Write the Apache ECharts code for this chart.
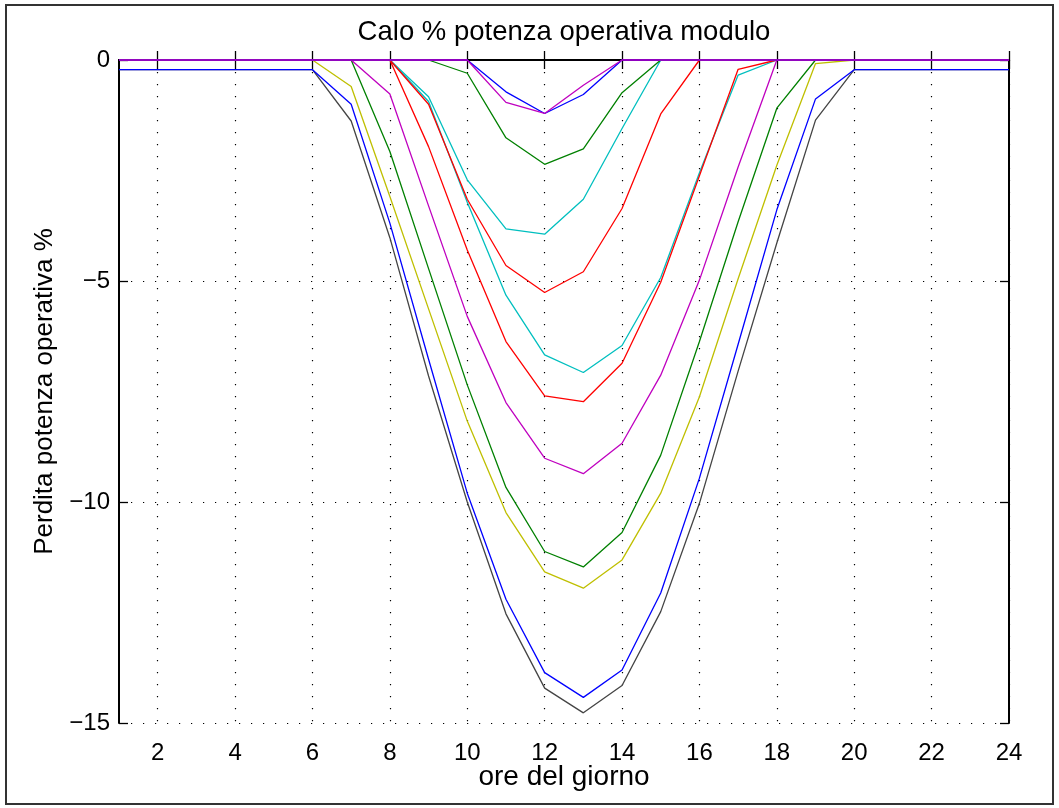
<!DOCTYPE html>
<html>
<head>
<meta charset="utf-8">
<script src="https://cdn.jsdelivr.net/npm/echarts@6/dist/echarts.min.js"></script>
<style>
  html, body { margin: 0; padding: 0; background: #fff; }
  #chart { width: 1059px; height: 808px; }
</style>
</head>
<body>
<div id="chart"></div>
<script>
// Hours of the day (x categories) and the hours that carry a tick/label
const hours = [1, 2, 3, 4, 5, 6, 7, 8, 9, 10, 11, 12, 13, 14, 15, 16, 17, 18, 19, 20, 21, 22, 23, 24];
const xTickHours = [2, 4, 6, 8, 10, 12, 14, 16, 18, 20, 22, 24];
const yTickStep = 5;
const yMin = -15;
const yMax = 0;

// Percentage loss of operating power, one curve per case (values per hour)
const curveBlueSmall    = [0, 0, 0, 0, 0, 0, 0, 0, 0, 0, -0.72, -1.21, -0.78, 0, 0, 0, 0, 0, 0, 0, 0, 0, 0, 0];
const curveMagentaSmall = [0, 0, 0, 0, 0, 0, 0, 0, 0, 0, -0.96, -1.21, -0.57, 0, 0, 0, 0, 0, 0, 0, 0, 0, 0, 0];
const curveGreenSmall   = [0, 0, 0, 0, 0, 0, 0, 0, 0, -0.30, -1.76, -2.36, -2.01, -0.74, 0, 0, 0, 0, 0, 0, 0, 0, 0, 0];
const curveCyanUpper    = [0, 0, 0, 0, 0, 0, 0, 0, -0.83, -2.71, -3.82, -3.94, -3.15, -1.55, 0, 0, 0, 0, 0, 0, 0, 0, 0, 0];
const curveRedUpper     = [0, 0, 0, 0, 0, 0, 0, 0, -1.00, -3.15, -4.65, -5.26, -4.79, -3.36, -1.22, 0, 0, 0, 0, 0, 0, 0, 0, 0];
const curveCyanLower    = [0, 0, 0, 0, 0, 0, 0, 0, -0.94, -3.22, -5.32, -6.67, -7.07, -6.46, -4.92, -2.55, -0.34, 0, 0, 0, 0, 0, 0, 0];
const curveRedLower     = [0, 0, 0, 0, 0, 0, 0, 0, -1.96, -4.30, -6.37, -7.60, -7.73, -6.86, -5.03, -2.62, -0.21, 0, 0, 0, 0, 0, 0, 0];
const curveMagentaLower = [0, 0, 0, 0, 0, 0, 0, -0.77, -3.30, -5.80, -7.75, -9.01, -9.36, -8.67, -7.13, -4.98, -2.42, 0, 0, 0, 0, 0, 0, 0];
const curveGreenLower   = [0, 0, 0, 0, 0, 0, 0, -2.07, -4.72, -7.35, -9.67, -11.12, -11.47, -10.69, -8.94, -6.37, -3.66, -1.09, 0, 0, 0, 0, 0, 0];
const curveYellow       = [0, 0, 0, 0, 0, 0, -0.60, -3.09, -5.63, -8.17, -10.24, -11.58, -11.95, -11.31, -9.80, -7.62, -4.95, -2.38, -0.08, 0, 0, 0, 0, 0];
const curveBlueDeep     = [-0.22, -0.22, -0.22, -0.22, -0.22, -0.22, -1.00, -3.69, -6.77, -9.80, -12.20, -13.86, -14.42, -13.80, -12.06, -9.46, -6.43, -3.39, -0.88, -0.22, -0.22, -0.22, -0.22, -0.22];
const curveBlack        = [-0.22, -0.22, -0.22, -0.22, -0.22, -0.22, -1.38, -4.02, -7.15, -10.00, -12.53, -14.21, -14.77, -14.15, -12.48, -10.03, -7.04, -4.14, -1.36, -0.22, -0.22, -0.22, -0.22, -0.22];

// Drawing order: deepest first, so the later curves sit on top
const curves = [
  { data: curveBlack,        color: '#444444' },
  { data: curveBlueDeep,     color: '#0000FF' },
  { data: curveYellow,       color: '#BFBF00' },
  { data: curveGreenLower,   color: '#008000' },
  { data: curveMagentaLower, color: '#BF00BF' },
  { data: curveCyanLower,    color: '#00BFBF' },
  { data: curveRedLower,     color: '#FF0000' },
  { data: curveCyanUpper,    color: '#00BFBF' },
  { data: curveRedUpper,     color: '#FF0000' },
  { data: curveGreenSmall,   color: '#008000' },
  { data: curveBlueSmall,    color: '#0000FF' },
  { data: curveMagentaSmall, color: '#BF00BF' }
];

const FONT = 'Liberation Sans, Arial, Helvetica, sans-serif';
const onTick = (index) => xTickHours.indexOf(hours[index]) !== -1;
const dotted = { color: '#000', width: 1.2, type: [1.2, 10.8] };

const chart = echarts.init(document.getElementById('chart'), null, { renderer: 'canvas' });

chart.setOption({
  animation: false,
  backgroundColor: '#fff',
  grid: { left: 119, right: 50, top: 60, bottom: 85, containLabel: false },
  graphic: [
    {
      type: 'rect',
      shape: { x: 6, y: 5, width: 1047, height: 799 },
      style: { fill: 'none', stroke: '#333', lineWidth: 2 },
      z: 0
    },
    {
      type: 'text',
      x: 564, y: 32,
      style: {
        text: 'Calo % potenza operativa modulo',
        font: '27.5px ' + FONT,
        fill: '#000',
        textAlign: 'center',
        textVerticalAlign: 'middle'
      }
    }
  ],
  xAxis: [
    {
      type: 'category',
      data: hours,
      boundaryGap: false,
      position: 'bottom',
      axisLine: { show: true, lineStyle: { color: '#000', width: 2 } },
      axisTick: { show: true, inside: true, length: 9, interval: onTick, lineStyle: { color: '#000', width: 1.3 } },
      axisLabel: { show: true, interval: onTick, margin: 18, color: '#000', fontSize: 24, fontFamily: FONT },
      splitLine: { show: true, interval: onTick, lineStyle: dotted },
      name: 'ore del giorno',
      nameLocation: 'middle',
      nameGap: 40,
      nameMoveOverlap: false,
      nameTextStyle: { color: '#000', fontSize: 28, fontFamily: FONT }
    },
    {
      type: 'category',
      data: hours,
      boundaryGap: false,
      position: 'top',
      axisLine: { show: true, lineStyle: { color: '#000', width: 1.5 } },
      axisTick: { show: true, inside: true, length: 9, interval: onTick, lineStyle: { color: '#000', width: 1.3 } },
      axisLabel: { show: false },
      splitLine: { show: false }
    }
  ],
  yAxis: [
    {
      type: 'value',
      min: yMin, max: yMax, interval: yTickStep,
      position: 'left',
      axisLine: { show: true, lineStyle: { color: '#000', width: 2 } },
      axisTick: { show: true, inside: true, length: 9, lineStyle: { color: '#000', width: 1.3 } },
      axisLabel: {
        margin: 9, color: '#000', fontSize: 24, fontFamily: FONT,
        formatter: (v) => String(v).replace('-', '\u2212')
      },
      splitLine: { show: true, lineStyle: dotted },
      name: 'Perdita potenza operativa %',
      nameLocation: 'middle',
      nameGap: 61,
      nameMoveOverlap: false,
      nameTextStyle: { color: '#000', fontSize: 26, fontFamily: FONT }
    },
    {
      type: 'value',
      min: yMin, max: yMax, interval: yTickStep,
      position: 'right',
      axisLine: { show: true, lineStyle: { color: '#000', width: 2 } },
      axisTick: { show: true, inside: true, length: 9, lineStyle: { color: '#000', width: 1.3 } },
      axisLabel: { show: false },
      splitLine: { show: false }
    }
  ],
  series: curves.map((c, i) => ({
    name: 'curva ' + (i + 1),
    type: 'line',
    xAxisIndex: 0,
    yAxisIndex: 0,
    data: c.data,
    symbol: 'none',
    showSymbol: false,
    clip: false,
    lineStyle: { color: c.color, width: 1.3 },
    itemStyle: { color: c.color },
    emphasis: { disabled: true },
    z: 3
  }))
});
</script>
</body>
</html>
